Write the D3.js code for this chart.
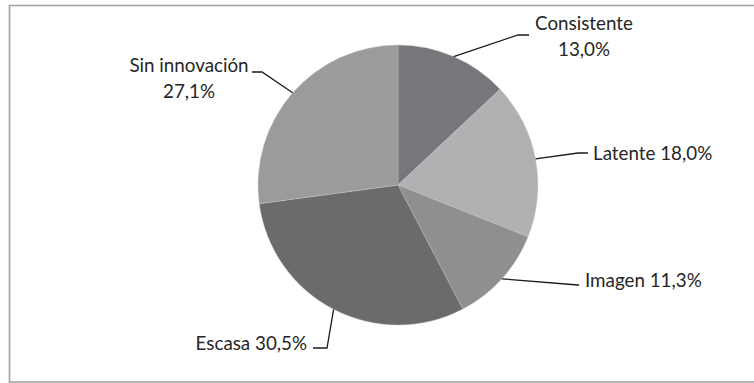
<!DOCTYPE html>
<html>
<head>
<meta charset="utf-8">
<script src="https://cdn.jsdelivr.net/npm/d3@7"></script>
<style>
  html, body { margin: 0; padding: 0; background: #fff; }
  svg { display: block; }
  text { font-family: Lato, "Open Sans", sans-serif; fill: #262626; }
</style>
</head>
<body>
<svg id="chart" width="754" height="383"></svg>
<script>
// Segment names and shares (%), clockwise from 12 o'clock
const categories = ["Consistente", "Latente", "Imagen", "Escasa", "Sin innovación"];
const shares = [13.0, 18.0, 11.3, 30.5, 27.1];
const shareLabels = ["13,0%", "18,0%", "11,3%", "30,5%", "27,1%"];
const fills = ["#77777b", "#b1b1b3", "#8f8f91", "#6b6b6d", "#9b9b9d"];

// Label placement relative to the pie centre: elbow, line end, text anchor, layout
const labelLayout = [
  { elbow: [120, -150], end: [131, -150], text: [186, -162], anchor: "middle", twoLines: true },
  { elbow: [180, -32],  end: [190, -32],  text: [195, -32],  anchor: "start",  twoLines: false },
  { elbow: [180, 100],  end: [181, 100],  text: [187, 95],   anchor: "start",  twoLines: false },
  { elbow: [-71, 163],  end: [-85, 163],  text: [-91, 158],  anchor: "end",    twoLines: false },
  { elbow: [-136, -113], end: [-146, -113], text: [-209, -120], anchor: "middle", twoLines: true }
];

const svg = d3.select("#chart");
const cx = 398, cy = 185, radius = 140;
const fontSize = 18.8, lineGap = 26.5;

// Outer frame
svg.append("rect")
  .attr("x", 9.5).attr("y", 5.5)
  .attr("width", 770).attr("height", 376.5)
  .attr("fill", "none")
  .attr("stroke", "#a3a3a3")
  .attr("stroke-width", 1.6);

const pie = d3.pie().sort(null).value(d => d.value);
const data = categories.map((c, i) => ({ name: c, value: shares[i], label: shareLabels[i], i }));
const arcs = pie(data);

const arc = d3.arc().innerRadius(0).outerRadius(radius);
const edge = d3.arc().innerRadius(radius).outerRadius(radius);

const g = svg.append("g").attr("transform", `translate(${cx},${cy})`);

g.selectAll("path.slice")
  .data(arcs)
  .enter().append("path")
  .attr("class", "slice")
  .attr("d", arc)
  .attr("fill", d => fills[d.data.i])
  .attr("stroke", "#c8c8c8")
  .attr("stroke-width", 0.4);

// Leader lines from the slice edge to the label
g.selectAll("polyline.leader")
  .data(arcs)
  .enter().append("polyline")
  .attr("class", "leader")
  .attr("fill", "none")
  .attr("stroke", "#1a1a1a")
  .attr("stroke-width", 1.3)
  .attr("points", d => {
    const L = labelLayout[d.data.i];
    const p = edge.centroid(d);
    return [p, L.elbow, L.end].map(q => q.join(",")).join(" ");
  });

// Labels
arcs.forEach(d => {
  const L = labelLayout[d.data.i];
  const t = g.append("text")
    .attr("x", L.text[0]).attr("y", L.text[1])
    .attr("text-anchor", L.anchor)
    .attr("font-size", fontSize);
  if (L.twoLines) {
    t.append("tspan").attr("x", L.text[0]).attr("dy", "0.35em").text(d.data.name);
    t.append("tspan").attr("x", L.text[0]).attr("dy", lineGap).text(d.data.label);
  } else {
    t.attr("dy", "0.35em").text(d.data.name + " " + d.data.label);
  }
});
</script>
</body>
</html>
